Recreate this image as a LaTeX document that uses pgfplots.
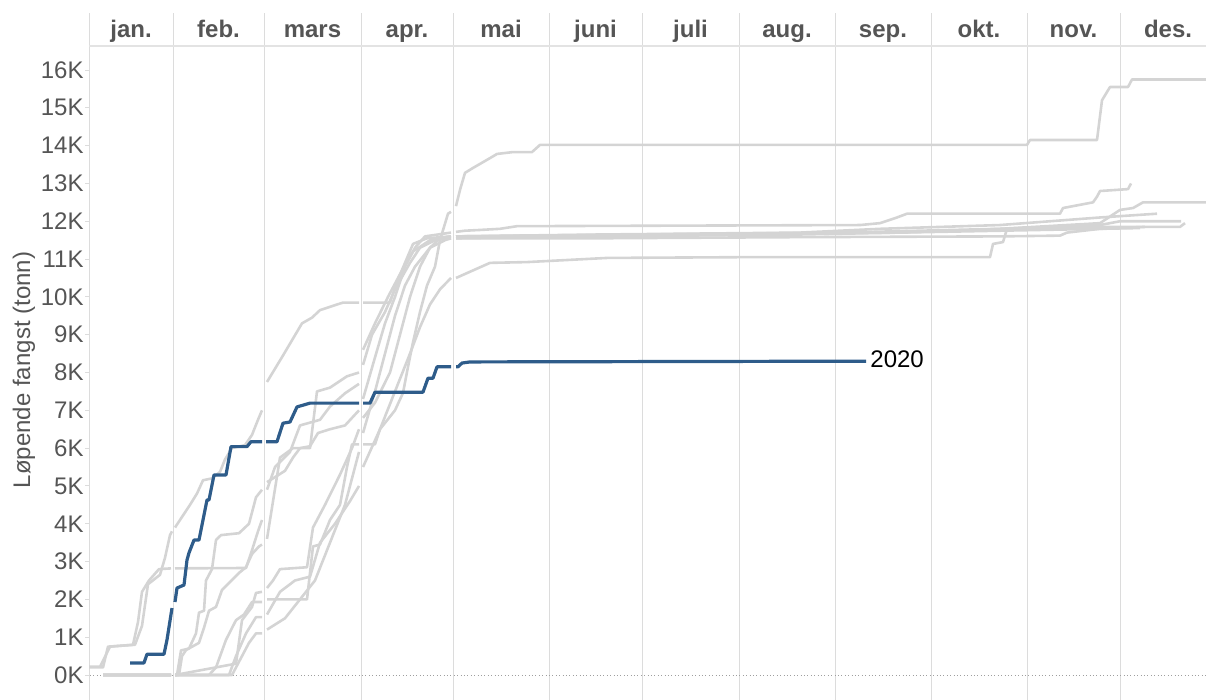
\documentclass[border=0pt]{standalone}
\usepackage{fontspec}
\setmainfont{Liberation Sans}
\usepackage{pgfplots}
\pgfplotsset{compat=1.18}
\definecolor{grayline}{HTML}{D4D4D4}
\definecolor{blueline}{HTML}{2E5C8A}
\definecolor{gridc}{HTML}{DCDCDC}
\definecolor{txt}{HTML}{555555}
\newcommand{\lf}{\fontsize{12bp}{14bp}\selectfont}
\tikzset{mlab/.style={anchor=base, font=\bfseries\lf, text=txt, inner sep=0pt}}
\begin{document}
\begin{tikzpicture}
\useasboundingbox (0,0) rectangle (603bp,350bp);
\begin{axis}[
  at={(44.5bp,0bp)}, anchor=south west,
  scale only axis, width=558.5bp, height=343.5bp,
  xmin=89, xmax=1206, ymin=-0.661, ymax=17.508,
  axis line style={draw=none},
  xtick={173,264,361,453,549,642,739,835,931,1027,1120},
  xticklabel=\empty, x tick style={draw=none},
  xmajorgrids, grid style={gridc, line width=0.5bp},
  ytick={0,1,...,16}, ytick pos=left, tick align=outside,
  major tick length=2bp, y tick style={gridc, line width=0.5bp},
  yticklabel={\pgfmathprintnumber{\tick}K},
  yticklabel style={font=\lf, text=txt, inner sep=0.5bp},
  /pgf/number format/assume math mode=true,
  unbounded coords=jump,
  clip=false,
]
\draw[gridc, line width=0.5bp] (axis cs:89,-0.661) -- (axis cs:89,17.508);
\draw[gridc!80, line width=0.7bp] (axis cs:89,16.636) -- (axis cs:1206,16.636);
\addplot[gray!75, line width=0.5bp, dash pattern=on 0.5bp off 1.2bp] coordinates {(90,0) (1206,0)};

\node[mlab] at (axis cs:131,16.847) {jan.};
\node[mlab] at (axis cs:218.5,16.847) {feb.};
\node[mlab] at (axis cs:312.5,16.847) {mars};
\node[mlab] at (axis cs:407,16.847) {apr.};
\node[mlab] at (axis cs:501,16.847) {mai};
\node[mlab] at (axis cs:595.5,16.847) {juni};
\node[mlab] at (axis cs:690.5,16.847) {juli};
\node[mlab] at (axis cs:787,16.847) {aug.};
\node[mlab] at (axis cs:883,16.847) {sep.};
\node[mlab] at (axis cs:979,16.847) {okt.};
\node[mlab] at (axis cs:1073.5,16.847) {nov.};
\node[mlab] at (axis cs:1168,16.847) {des.};

% S1
\addplot[grayline, line width=1.3bp, line join=round] coordinates {(89,0.22)(100,0.22)(110,0.75)(133,0.8)(138,1.4)(142,2.2)(149,2.5)(159,2.8)(171,2.82)(173,nan)(175,2.82)(246,2.83)(252,3.3)(258,3.8)(262,4.1)(264,nan)(267,4.9)(275,5.5)(290,5.9)(300,6.6)(320,6.75)(330,7.1)(345,7.45)(359,7.7)(361,nan)(363,8.2)(372,9.0)(385,9.6)(395,10.2)(410,10.9)(420,11.3)(435,11.5)(451,11.55)(453,nan)(456,11.55)(600,11.6)(800,11.65)(900,11.7)(1100,11.9)(1120,12.0)(1181,12.0)};
% S2
\addplot[grayline, line width=1.3bp, line join=round] coordinates {(89,0.2)(103,0.2)(108,0.75)(135,0.8)(142,1.3)(148,2.4)(160,2.65)(165,3.1)(170,3.7)(172,3.8)(173,nan)(175,3.9)(180,4.1)(190,4.5)(197,4.8)(203,5.15)(212,5.2)(220,5.37)(225,5.7)(232,6.0)(245,6.08)(252,6.35)(258,6.75)(262,7.0)(264,nan)(267,7.75)(283,8.45)(302,9.3)(312,9.45)(320,9.65)(343,9.85)(359,9.85)(361,nan)(363,9.85)(390,9.85)(397,10.4)(405,10.9)(413,11.4)(427,11.55)(451,11.6)(453,nan)(456,11.6)(640,11.65)(840,11.7)(1000,11.8)(1100,11.95)(1120,12.3)(1133,12.35)(1143,12.5)(1206,12.5)};
% S3
\addplot[grayline, line width=1.3bp, line join=round] coordinates {(103,0)(171,0)(173,nan)(175,0)(177,0)(181,0.65)(189,0.7)(196,1.1)(199,1.65)(204,1.7)(206,2.5)(212,2.8)(216,3.57)(221,3.7)(239,3.75)(249,4.0)(256,4.7)(262,4.9)(264,nan)(267,5.1)(285,5.4)(293,5.75)(300,6.0)(310,6.05)(318,6.4)(330,6.5)(345,6.6)(359,7.0)(361,nan)(363,7.3)(375,8.4)(385,9.3)(395,10.0)(405,10.8)(415,11.3)(425,11.6)(451,11.7)(453,nan)(456,11.72)(465,11.75)(480,11.77)(500,11.8)(517,11.87)(860,11.9)(880,11.95)(897,12.1)(907,12.2)(1060,12.2)(1063,12.35)(1093,12.5)(1097,12.65)(1100,12.8)(1128,12.85)(1131,13.0)};
% S4
\addplot[grayline, line width=1.3bp, line join=round] coordinates {(103,0)(171,0)(173,nan)(175,0)(179,0)(182,0.5)(186,0.66)(199,0.85)(204,1.25)(209,1.7)(216,1.8)(222,2.25)(239,2.7)(246,2.85)(252,3.2)(259,3.4)(262,3.45)(264,nan)(267,3.6)(280,5.75)(293,6.0)(310,6.0)(317,7.5)(330,7.6)(347,7.9)(359,8.0)(361,nan)(363,8.6)(375,9.3)(388,10.0)(400,10.6)(413,11.2)(430,11.5)(451,11.6)(453,nan)(456,11.6)(600,11.65)(800,11.7)(880,11.8)(1000,11.9)(1100,12.1)(1157,12.2)};
% S5
\addplot[grayline, line width=1.3bp, line join=round] coordinates {(103,0)(171,0)(173,nan)(175,0)(209,0)(216,0.2)(226,0.93)(236,1.45)(244,1.6)(252,1.93)(262,1.93)(264,nan)(267,2.0)(307,2.0)(313,3.4)(320,3.45)(330,4.1)(340,4.5)(347,5.5)(352,6.1)(359,6.1)(361,nan)(363,6.1)(375,6.1)(380,6.5)(395,7.0)(403,7.46)(408,8.15)(413,8.8)(420,9.6)(427,10.3)(435,10.8)(440,11.5)(448,12.2)(451,12.25)(453,nan)(456,12.4)(460,12.83)(465,13.28)(473,13.41)(490,13.67)(497,13.78)(513,13.83)(532,13.83)(540,14.02)(1027,14.02)(1030,14.15)(1097,14.15)(1102,15.2)(1110,15.55)(1128,15.55)(1132,15.75)(1206,15.75)};
% S6
\addplot[grayline, line width=1.3bp, line join=round] coordinates {(103,0)(171,0)(173,nan)(175,0)(229,0)(236,0.5)(246,1.1)(256,1.53)(262,1.53)(264,nan)(267,1.6)(280,2.2)(295,2.5)(310,2.6)(320,3.5)(335,4.0)(350,4.6)(359,5.0)(361,nan)(363,5.5)(380,6.5)(395,7.5)(410,8.5)(420,9.2)(430,9.8)(440,10.2)(451,10.5)(453,nan)(456,10.5)(473,10.7)(490,10.9)(527,10.92)(607,11.03)(740,11.05)(990,11.05)(993,11.4)(1003,11.45)(1007,11.8)(1100,11.85)(1180,11.85)(1185,11.95)};
% S7
\addplot[grayline, line width=1.3bp, line join=round] coordinates {(103,0)(171,0)(173,nan)(175,0)(232,0)(249,0.85)(256,1.1)(262,1.1)(264,nan)(267,1.2)(285,1.5)(300,2.0)(315,2.5)(330,3.5)(345,4.5)(355,5.5)(359,5.9)(361,nan)(363,6.4)(375,7.5)(385,8.5)(395,9.5)(405,10.3)(415,10.8)(430,11.3)(445,11.5)(451,11.55)(453,nan)(456,11.55)(600,11.55)(800,11.58)(1000,11.6)(1060,11.62)(1067,11.7)(1100,11.8)(1145,11.85)};
% S8
\addplot[grayline, line width=1.3bp, line join=round] coordinates {(103,0)(171,0)(173,nan)(175,0)(236,0.3)(242,1.45)(252,1.8)(256,2.17)(262,2.2)(264,nan)(267,2.3)(273,2.5)(280,2.8)(307,2.85)(313,3.9)(325,4.5)(340,5.3)(352,6.0)(359,6.5)(361,nan)(363,6.8)(375,7.2)(390,8.0)(400,9.0)(410,10.0)(420,10.8)(430,11.3)(440,11.55)(451,11.6)(453,nan)(456,11.6)(700,11.65)(900,11.7)(1100,11.8)(1140,11.82)};
% 2020
\addplot[blueline, line width=1.6bp, line join=round] coordinates {(130,0.32)(144,0.32)(147,0.55)(164,0.55)(167,0.93)(172,1.77)(173,nan)(175,1.93)(177,2.3)(184,2.38)(187,3.04)(189,3.23)(194,3.57)(199,3.57)(203,4.1)(207,4.63)(209,4.63)(214,5.29)(226,5.29)(231,6.04)(247,6.04)(251,6.17)(262,6.17)(264,nan)(266,6.17)(277,6.17)(283,6.66)(290,6.69)(297,7.09)(310,7.19)(359,7.19)(361,nan)(363,7.19)(370,7.19)(375,7.48)(423,7.48)(428,7.85)(433,7.85)(437,8.15)(451,8.15)(453,nan)(456,8.15)(458,8.15)(462,8.25)(470,8.28)(866,8.3)};
\node[anchor=base west, font=\lf, inner sep=0pt] at (axis cs:870,8.12) {2020};
\end{axis}
\node[rotate=90, font=\lf, text=txt, inner sep=0pt] at (12bp,165bp) {Løpende fangst (tonn)};
\end{tikzpicture}
\end{document}
